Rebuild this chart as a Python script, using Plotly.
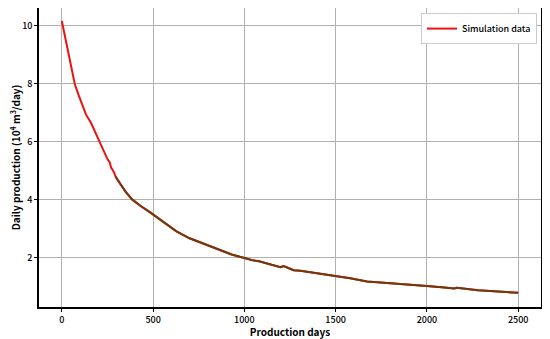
import plotly.graph_objects as go

# production days and simulated daily production (10^4 m3/day)
days = [0, 20, 40, 55, 71, 90, 110, 132, 159, 180, 205, 230, 250, 262, 270, 285, 295,
        320, 350, 385, 430, 482, 550, 628, 700, 763, 808, 870, 930, 1000, 1035, 1052, 1080,
        1140, 1198, 1215, 1240, 1270, 1307, 1400, 1500, 1580, 1672, 1745, 1854, 1930, 2000,
        2080, 2150, 2164, 2200, 2280, 2347, 2420, 2500]
prod = [10.17, 9.55, 8.9, 8.45, 8.0, 7.65, 7.3, 6.95, 6.67, 6.38, 6.0, 5.7, 5.41, 5.3,
        5.12, 4.97, 4.8, 4.55, 4.28, 4.02, 3.8, 3.58, 3.28, 2.92, 2.68, 2.52, 2.42, 2.25,
        2.12, 2.0, 1.93, 1.91, 1.89, 1.78, 1.68, 1.72, 1.66, 1.58, 1.56, 1.48, 1.37, 1.30,
        1.19, 1.16, 1.11, 1.07, 1.03, 0.99, 0.95, 0.97, 0.94, 0.89, 0.86, 0.83, 0.80]

split = 295
late_days = [d for d in days if d >= split]
late_prod = [p for d, p in zip(days, prod) if d >= split]

fnt = "Noto Sans CJK SC"

fig = go.Figure()
fig.add_trace(go.Scatter(x=days, y=prod, mode="lines", name="Simulation data",
                         line=dict(color="#ee1111", width=2)))
fig.add_trace(go.Scatter(x=late_days, y=late_prod, mode="lines", showlegend=False,
                         line=dict(color="#6e3a0c", width=2)))

# the page body has an 8px margin, so the figure is sized to fill the rest of the window
fig.update_layout(
    width=542, height=331,
    margin=dict(l=31, r=9, t=0, b=32),
    plot_bgcolor="white", paper_bgcolor="white",
    font=dict(family=fnt, size=9, color="black", weight=500),
    showlegend=True,
    legend=dict(x=0.992, y=0.983, xanchor="right", yanchor="top",
                bgcolor="white", bordercolor="#cccccc", borderwidth=1,
                itemwidth=30, font=dict(family=fnt, size=9, weight=500)),
    xaxis=dict(range=[-125, 2625], tickvals=[0, 500, 1000, 1500, 2000, 2500],
               showgrid=True, gridcolor="#b0b0b0", gridwidth=1, zeroline=False,
               showline=True, linecolor="black", linewidth=1.5, mirror=True,
               ticks="outside", ticklen=3, tickcolor="black", automargin=False,
               title=dict(text="<b>Production days</b>", standoff=0,
                          font=dict(family=fnt, size=10))),
    yaxis=dict(range=[0.31, 10.62], tickvals=[2, 4, 6, 8, 10],
               showgrid=True, gridcolor="#b0b0b0", gridwidth=1, zeroline=False,
               showline=True, linecolor="black", linewidth=1.5, mirror=True,
               ticks="outside", ticklen=3, tickcolor="black", automargin=False,
               title=dict(text="<b>Daily production (10<sup>4</sup> m<sup>3</sup>/day)</b>",
                          standoff=3, font=dict(family=fnt, size=10))),
)

fig.write_html("out.html")
